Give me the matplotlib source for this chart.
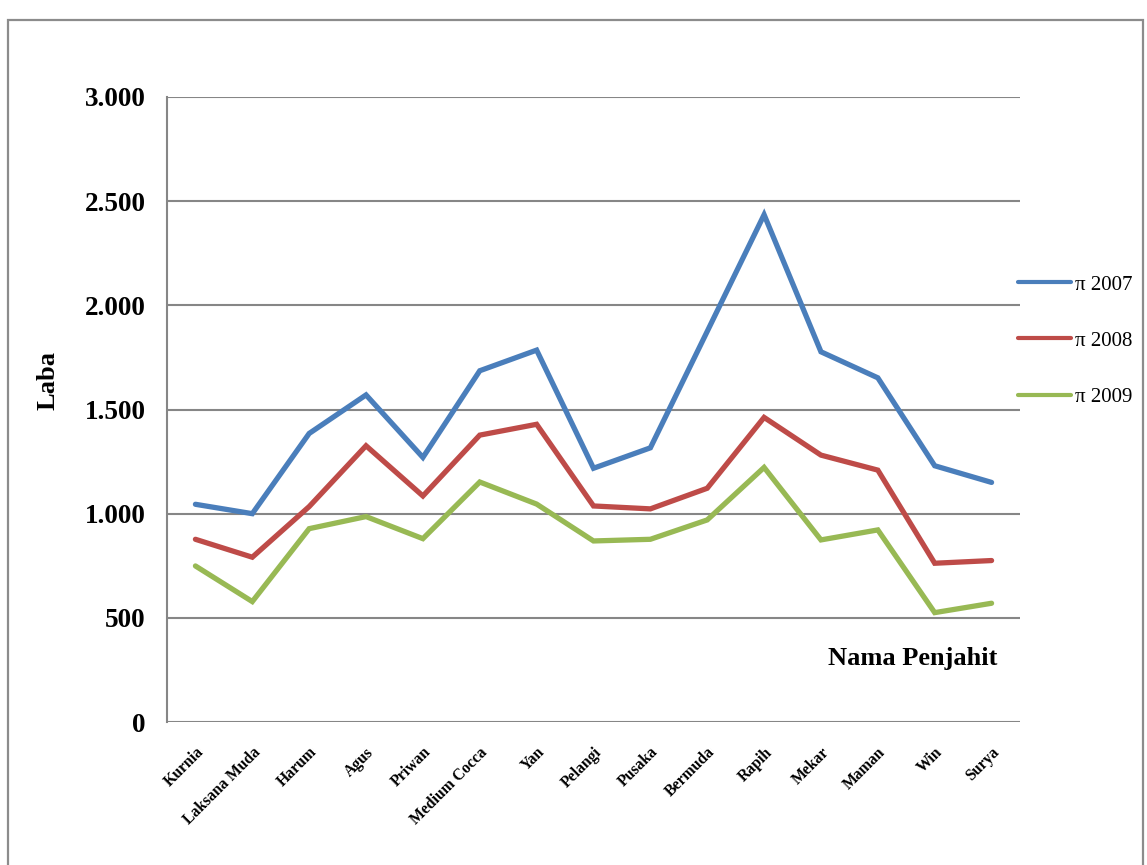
import matplotlib
matplotlib.use("Agg")
import matplotlib.pyplot as plt
from matplotlib.ticker import FuncFormatter, MultipleLocator
from matplotlib.patches import Rectangle

# laba per penjahit, tahun 2007-2009
penjahit = ["Kurnia", "Laksana Muda", "Harum", "Agus", "Priwan", "Medium Cocca",
            "Yan", "Pelangi", "Pusaka", "Bermuda", "Rapih", "Mekar", "Maman",
            "Win", "Surya"]
laba_2007 = [1045, 1000, 1385, 1570, 1270, 1686, 1785, 1218, 1316, 1875, 2435,
             1777, 1652, 1230, 1150]
laba_2008 = [877, 791, 1034, 1326, 1085, 1377, 1429, 1037, 1023, 1122, 1462,
             1281, 1209, 762, 775]
laba_2009 = [749, 578, 928, 986, 880, 1152, 1046, 869, 877, 970, 1222,
             874, 922, 525, 570]
seri = ["\u03c0 2007", "\u03c0 2008", "\u03c0 2009"]
warna = ["#4A7EBB", "#BE4B48", "#98B954"]

plt.rcParams['font.family'] = ['Liberation Serif', 'DejaVu Serif']

fig = plt.figure(figsize=(11.47, 8.65), dpi=100)
fig.patch.set_facecolor("white")

# bingkai luar grafik
fig.add_artist(Rectangle((8 / 1147, -0.01), 1135 / 1147, (865 - 20) / 865 + 0.01,
                         transform=fig.transFigure, fill=False,
                         edgecolor="#8c8c8c", linewidth=1.6))

ax = fig.add_axes([167 / 1147, (865 - 722) / 865, 853 / 1147, 625 / 865])

x = list(range(len(penjahit)))
for data, label, c in zip([laba_2007, laba_2008, laba_2009], seri, warna):
    ax.plot(x, data, color=c, linewidth=3.8, label=label,
            solid_joinstyle="miter", solid_capstyle="round")

ax.set_xlim(-0.5, len(penjahit) - 0.5)
ax.set_ylim(0, 3000)
ax.yaxis.set_major_locator(MultipleLocator(500))
ax.yaxis.set_major_formatter(FuncFormatter(lambda v, p: f"{int(v):,}".replace(",", ".")))
ax.grid(axis="y", color="#868686", linewidth=1.5)
ax.set_axisbelow(True)
for s in ["top", "right", "bottom"]:
    ax.spines[s].set_visible(False)
ax.spines["left"].set_color("#868686")
ax.spines["left"].set_linewidth(1.5)

ax.set_xticks(x)
ax.set_xticklabels(penjahit, rotation=45, ha="right", va="top",
                   rotation_mode="anchor", fontsize=11.3, fontweight="bold")
ax.tick_params(axis="x", length=0, pad=16)
ax.tick_params(axis="y", length=0, pad=15.5, labelsize=19.5)
for t in ax.get_yticklabels():
    t.set_fontweight("bold")

fig.text(48 / 1147, (865 - 381) / 865, "Laba", rotation=90, fontsize=19,
         fontweight="bold", ha="center", va="center")
ax.text(0.974, 0.1024, "Nama Penjahit", transform=ax.transAxes, fontsize=19,
        fontweight="bold", ha="right", va="center")

leg = ax.legend(loc="center left", bbox_to_anchor=(1018 / 1147, (865 - 341) / 865),
                bbox_transform=fig.transFigure, frameon=False, fontsize=15,
                handlelength=2.55, handletextpad=0.2, labelspacing=1.75,
                borderpad=0, borderaxespad=0)
for h in leg.get_lines():
    h.set_linewidth(3.0)

fig.savefig("out.png", dpi=100)
